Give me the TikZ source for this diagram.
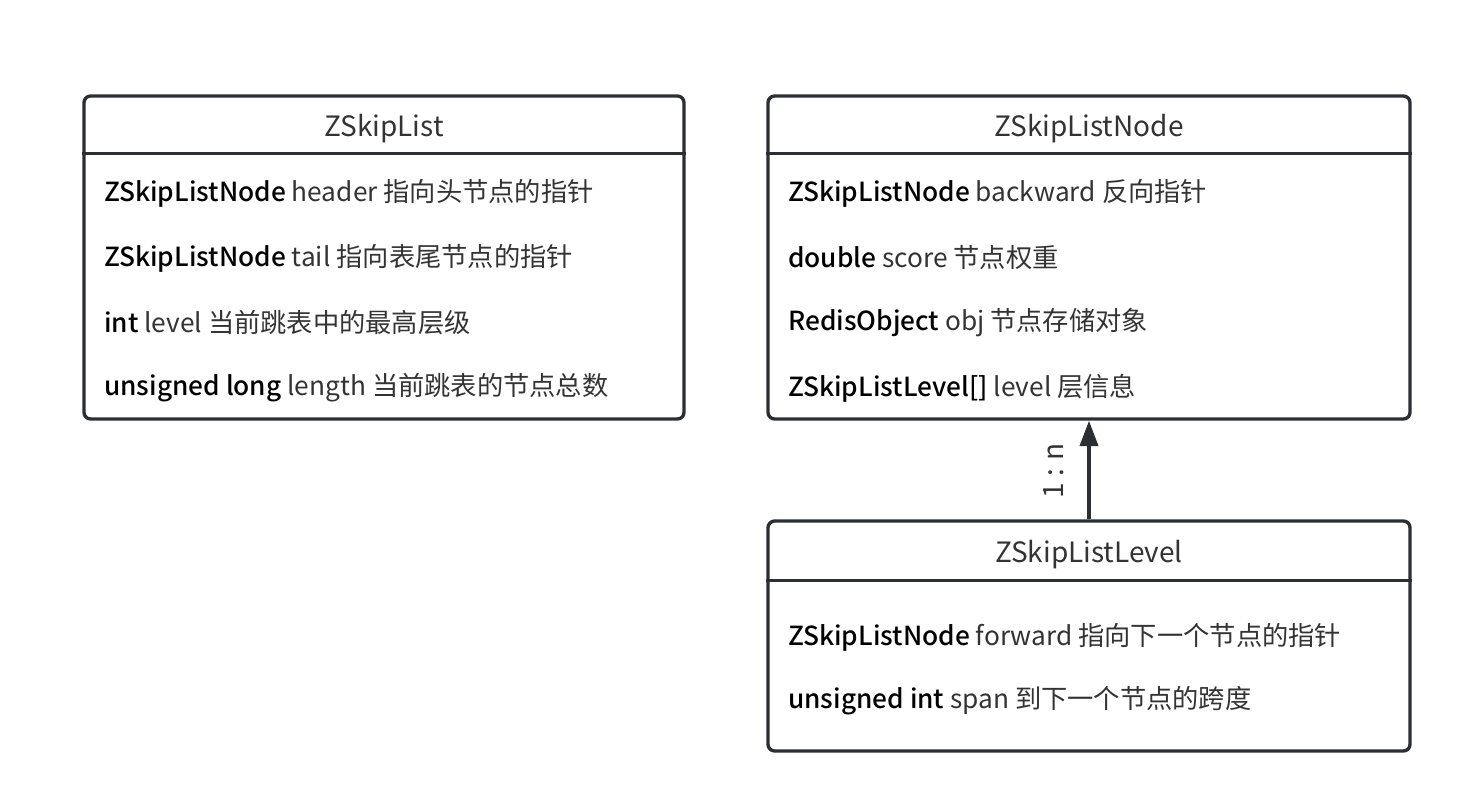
\documentclass[tikz,border=0pt]{standalone}
\usepackage{fontspec}
\setmainfont{Noto Sans CJK SC}[BoldFont={Noto Sans CJK SC Medium}]
\usetikzlibrary{arrows.meta,positioning,calc}
\definecolor{edgegray}{HTML}{2B2F33}
\definecolor{textgray}{HTML}{333333}
\tikzset{
  classbox/.style={draw=edgegray, line width=2.5pt, rounded corners=5pt, inner sep=0pt},
  headline/.style={draw=edgegray, line width=2.5pt},
  title/.style={font=\fontsize{21}{23}\selectfont, text=textgray},
  field/.style={anchor=west, inner sep=0pt, font=\fontsize{19.7}{21}\selectfont, text=textgray},
  link/.style={draw=edgegray, line width=2.8pt, -{Triangle[length=19pt,width=13.5pt]}},
}
\newcommand{\kw}[1]{\textcolor{black}{\textbf{#1}}}
\begin{document}
\begin{tikzpicture}[x=0.75pt,y=-0.75pt]
	\useasboundingbox (0,0) rectangle (1464,806);
	% ZSkipList
	\node[classbox, minimum width=450pt, minimum height=242.25pt] (list) at (384,257.5) {};
	\draw[headline] ($(list.north west)+(0,59)$) -- ($(list.north east)+(0,59)$);
	\node[title] (listtitle) at (384,129) {ZSkipList};
	\node[field] (listheader) at (104,193) {\kw{ZSkipListNode} header 指向头节点的指针};
	\node[field] (listtail) at (104,258) {\kw{ZSkipListNode} tail 指向表尾节点的指针};
	\node[field] (listlevel) at (104,323) {\kw{int} level 当前跳表中的最高层级};
	\node[field] (listlength) at (104,388) {\kw{unsigned long} length 当前跳表的节点总数};
	% ZSkipListNode
	\node[classbox, minimum width=481.5pt, minimum height=242.25pt] (node) at (1089,257.5) {};
	\draw[headline] ($(node.north west)+(0,59)$) -- ($(node.north east)+(0,59)$);
	\node[title] (nodetitle) at (1089,129) {ZSkipListNode};
	\node[field] (nodebackward) at (788,193) {\kw{ZSkipListNode} backward 反向指针};
	\node[field] (nodescore) at (788,258) {\kw{double} score 节点权重};
	\node[field] (nodeobj) at (788,323) {\kw{RedisObject} obj 节点存储对象};
	\node[field] (nodelevel) at (788,388) {\kw{ZSkipListLevel[]} level 层信息};
	% ZSkipListLevel
	\node[classbox, minimum width=481.5pt, minimum height=172.5pt] (level) at (1089,636) {};
	\draw[headline] ($(level.north west)+(0,61)$) -- ($(level.north east)+(0,61)$);
	\node[title] (leveltitle) at (1089,555) {ZSkipListLevel};
	\node[field] (levelforward) at (788,637) {\kw{ZSkipListNode} forward 指向下一个节点的指针};
	\node[field] (levelspan) at (788,701) {\kw{unsigned int} span 到下一个节点的跨度};
	% 1 : n
	\draw[link] (level.north) -- (node.south);
	\node[title, rotate=90] (ratio) at (1054,471) {1 : n};
\end{tikzpicture}
\end{document}
